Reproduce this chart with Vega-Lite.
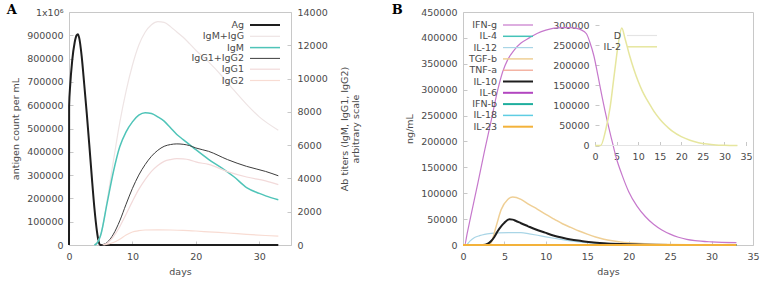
{
"$schema": "https://vega.github.io/schema/vega-lite/v6.json",
"padding": {"left": 6, "top": 3, "right": 2, "bottom": 2},
"background": "white",
"spacing": 30,
"config": {
  "font": "DejaVu Sans",
  "view": {"stroke": "#c8c8c8", "strokeWidth": 1},
  "axis": {"grid": false, "domain": false, "tickSize": -4, "tickColor": "#c8c8c8", "labelFont": "DejaVu Sans", "labelFontSize": 9.5, "labelColor": "#4a4a4a", "labelPadding": 10, "labelFlush": false, "labelOverlap": false, "titleFont": "DejaVu Sans", "titleFontSize": 9.5, "titleFontWeight": "normal", "titleColor": "#4a4a4a"},
  "legend": {"labelFont": "DejaVu Sans", "labelFontSize": 9.5, "labelColor": "#4a4a4a", "rowPadding": 0.3, "padding": 0, "title": null, "labelAlign": "right", "labelOffset": -27, "symbolType": "M-3,0H3", "symbolSize": 100},
  "line": {"interpolate": "monotone"}
},
"datasets": {
  "A": [
    {"s":"Ag","d":0,"v":0},{"s":"Ag","d":0.02,"v":596000},{"s":"Ag","d":0.2,"v":690000},{"s":"Ag","d":0.5,"v":790000},{"s":"Ag","d":0.9,"v":870000},{"s":"Ag","d":1.2,"v":900000},{"s":"Ag","d":1.4,"v":905000},{"s":"Ag","d":1.6,"v":890000},{"s":"Ag","d":2.0,"v":810000},{"s":"Ag","d":2.4,"v":690000},{"s":"Ag","d":2.8,"v":565000},{"s":"Ag","d":3.2,"v":430000},{"s":"Ag","d":3.6,"v":290000},{"s":"Ag","d":4.0,"v":160000},{"s":"Ag","d":4.4,"v":60000},{"s":"Ag","d":4.7,"v":12000},{"s":"Ag","d":4.9,"v":0},{"s":"Ag","d":33,"v":0},
    {"s":"IgM+IgG","d":4,"v":0},{"s":"IgM+IgG","d":5,"v":600},{"s":"IgM+IgG","d":6,"v":2650},{"s":"IgM+IgG","d":7,"v":5050},{"s":"IgM+IgG","d":8,"v":7350},{"s":"IgM+IgG","d":9,"v":9250},{"s":"IgM+IgG","d":10,"v":10800},{"s":"IgM+IgG","d":11,"v":12000},{"s":"IgM+IgG","d":12,"v":12780},{"s":"IgM+IgG","d":13,"v":13230},{"s":"IgM+IgG","d":14,"v":13420},{"s":"IgM+IgG","d":15,"v":13380},{"s":"IgM+IgG","d":16,"v":13120},{"s":"IgM+IgG","d":17,"v":12800},{"s":"IgM+IgG","d":18,"v":12480},{"s":"IgM+IgG","d":19,"v":12100},{"s":"IgM+IgG","d":20,"v":11700},{"s":"IgM+IgG","d":22,"v":11000},{"s":"IgM+IgG","d":24,"v":10200},{"s":"IgM+IgG","d":26,"v":9300},{"s":"IgM+IgG","d":28,"v":8450},{"s":"IgM+IgG","d":30,"v":7700},{"s":"IgM+IgG","d":33,"v":6900},
    {"s":"IgM","d":4,"v":0},{"s":"IgM","d":4.5,"v":150},{"s":"IgM","d":5,"v":600},{"s":"IgM","d":6,"v":2500},{"s":"IgM","d":7,"v":4400},{"s":"IgM","d":8,"v":5900},{"s":"IgM","d":9,"v":6800},{"s":"IgM","d":10,"v":7400},{"s":"IgM","d":11,"v":7800},{"s":"IgM","d":12,"v":7950},{"s":"IgM","d":13,"v":7900},{"s":"IgM","d":14,"v":7700},{"s":"IgM","d":15,"v":7440},{"s":"IgM","d":16,"v":7040},{"s":"IgM","d":17,"v":6640},{"s":"IgM","d":18,"v":6335},{"s":"IgM","d":19,"v":6035},{"s":"IgM","d":20,"v":5730},{"s":"IgM","d":22,"v":5150},{"s":"IgM","d":24,"v":4650},{"s":"IgM","d":26,"v":4100},{"s":"IgM","d":28,"v":3450},{"s":"IgM","d":30,"v":3100},{"s":"IgM","d":31,"v":2950},{"s":"IgM","d":33,"v":2715},
    {"s":"IgG1+IgG2","d":5,"v":0},{"s":"IgG1+IgG2","d":6,"v":150},{"s":"IgG1+IgG2","d":7,"v":650},{"s":"IgG1+IgG2","d":8,"v":1450},{"s":"IgG1+IgG2","d":9,"v":2450},{"s":"IgG1+IgG2","d":10,"v":3400},{"s":"IgG1+IgG2","d":11,"v":4200},{"s":"IgG1+IgG2","d":12,"v":4830},{"s":"IgG1+IgG2","d":13,"v":5330},{"s":"IgG1+IgG2","d":14,"v":5690},{"s":"IgG1+IgG2","d":15,"v":5930},{"s":"IgG1+IgG2","d":16,"v":6035},{"s":"IgG1+IgG2","d":17,"v":6075},{"s":"IgG1+IgG2","d":18,"v":6050},{"s":"IgG1+IgG2","d":19,"v":5975},{"s":"IgG1+IgG2","d":20,"v":5830},{"s":"IgG1+IgG2","d":22,"v":5630},{"s":"IgG1+IgG2","d":25,"v":5130},{"s":"IgG1+IgG2","d":28,"v":4725},{"s":"IgG1+IgG2","d":31,"v":4420},{"s":"IgG1+IgG2","d":33,"v":4160},
    {"s":"IgG1","d":5.3,"v":0},{"s":"IgG1","d":6,"v":100},{"s":"IgG1","d":7,"v":500},{"s":"IgG1","d":8,"v":1100},{"s":"IgG1","d":9,"v":1850},{"s":"IgG1","d":10,"v":2620},{"s":"IgG1","d":11,"v":3340},{"s":"IgG1","d":12,"v":3930},{"s":"IgG1","d":13,"v":4425},{"s":"IgG1","d":14,"v":4780},{"s":"IgG1","d":15,"v":5025},{"s":"IgG1","d":16,"v":5135},{"s":"IgG1","d":17,"v":5185},{"s":"IgG1","d":18,"v":5170},{"s":"IgG1","d":19,"v":5115},{"s":"IgG1","d":20,"v":4990},{"s":"IgG1","d":22,"v":4840},{"s":"IgG1","d":25,"v":4410},{"s":"IgG1","d":28,"v":4085},{"s":"IgG1","d":31,"v":3850},{"s":"IgG1","d":33,"v":3630},
    {"s":"IgG2","d":5.5,"v":0},{"s":"IgG2","d":7,"v":150},{"s":"IgG2","d":8,"v":350},{"s":"IgG2","d":9,"v":600},{"s":"IgG2","d":10,"v":780},{"s":"IgG2","d":11,"v":860},{"s":"IgG2","d":12,"v":900},{"s":"IgG2","d":14,"v":910},{"s":"IgG2","d":16,"v":900},{"s":"IgG2","d":18,"v":880},{"s":"IgG2","d":20,"v":840},{"s":"IgG2","d":22,"v":790},{"s":"IgG2","d":25,"v":720},{"s":"IgG2","d":28,"v":640},{"s":"IgG2","d":31,"v":570},{"s":"IgG2","d":33,"v":530}
  ],
  "B": [
    {"s":"IFN-g","d":0,"v":0},{"s":"IFN-g","d":0.2,"v":0},{"s":"IFN-g","d":0.5,"v":22000},{"s":"IFN-g","d":1,"v":60000},{"s":"IFN-g","d":1.8,"v":120000},{"s":"IFN-g","d":2.6,"v":182000},{"s":"IFN-g","d":3.4,"v":240000},{"s":"IFN-g","d":4.2,"v":300000},{"s":"IFN-g","d":4.8,"v":335000},{"s":"IFN-g","d":5.4,"v":358000},{"s":"IFN-g","d":6.2,"v":377000},{"s":"IFN-g","d":7,"v":390000},{"s":"IFN-g","d":8,"v":400000},{"s":"IFN-g","d":9,"v":409000},{"s":"IFN-g","d":10,"v":415000},{"s":"IFN-g","d":11,"v":419000},{"s":"IFN-g","d":12,"v":420000},{"s":"IFN-g","d":13,"v":420000},{"s":"IFN-g","d":13.5,"v":419000},{"s":"IFN-g","d":14.2,"v":416000},{"s":"IFN-g","d":14.9,"v":408000},{"s":"IFN-g","d":15.3,"v":392000},{"s":"IFN-g","d":15.8,"v":365000},{"s":"IFN-g","d":16.3,"v":326000},{"s":"IFN-g","d":16.8,"v":285000},{"s":"IFN-g","d":17.4,"v":240000},{"s":"IFN-g","d":18,"v":200000},{"s":"IFN-g","d":18.5,"v":168000},{"s":"IFN-g","d":19.2,"v":135000},{"s":"IFN-g","d":20,"v":103000},{"s":"IFN-g","d":21,"v":75000},{"s":"IFN-g","d":22,"v":55000},{"s":"IFN-g","d":23,"v":40000},{"s":"IFN-g","d":24,"v":29000},{"s":"IFN-g","d":25,"v":21000},{"s":"IFN-g","d":26,"v":15000},{"s":"IFN-g","d":27,"v":11000},{"s":"IFN-g","d":28,"v":8500},{"s":"IFN-g","d":30,"v":6000},{"s":"IFN-g","d":33,"v":4500},
    {"s":"IL-4","d":0,"v":0},{"s":"IL-4","d":33,"v":0},
    {"s":"IL-12","d":0,"v":0},{"s":"IL-12","d":0.4,"v":0},{"s":"IL-12","d":0.8,"v":7000},{"s":"IL-12","d":1.4,"v":14300},{"s":"IL-12","d":2,"v":18000},{"s":"IL-12","d":2.6,"v":20600},{"s":"IL-12","d":3.4,"v":22500},{"s":"IL-12","d":4.2,"v":23500},{"s":"IL-12","d":5.5,"v":24000},{"s":"IL-12","d":7,"v":23900},{"s":"IL-12","d":8,"v":21500},{"s":"IL-12","d":9,"v":18800},{"s":"IL-12","d":10,"v":15800},{"s":"IL-12","d":11,"v":13000},{"s":"IL-12","d":12,"v":10300},{"s":"IL-12","d":13,"v":7900},{"s":"IL-12","d":14,"v":5900},{"s":"IL-12","d":15,"v":4300},{"s":"IL-12","d":16,"v":3200},{"s":"IL-12","d":18,"v":1700},{"s":"IL-12","d":20,"v":900},{"s":"IL-12","d":25,"v":200},{"s":"IL-12","d":33,"v":0},
    {"s":"TGF-b","d":0,"v":0},{"s":"TGF-b","d":3.0,"v":0},{"s":"TGF-b","d":3.4,"v":4600},{"s":"TGF-b","d":4.0,"v":36000},{"s":"TGF-b","d":4.6,"v":68000},{"s":"TGF-b","d":5.4,"v":88000},{"s":"TGF-b","d":6.0,"v":92500},{"s":"TGF-b","d":7,"v":88000},{"s":"TGF-b","d":8,"v":78000},{"s":"TGF-b","d":9,"v":69000},{"s":"TGF-b","d":10,"v":59000},{"s":"TGF-b","d":11,"v":50000},{"s":"TGF-b","d":12,"v":41000},{"s":"TGF-b","d":13,"v":34000},{"s":"TGF-b","d":14,"v":27000},{"s":"TGF-b","d":15,"v":21000},{"s":"TGF-b","d":16,"v":15500},{"s":"TGF-b","d":17,"v":11000},{"s":"TGF-b","d":18,"v":8000},{"s":"TGF-b","d":19,"v":6000},{"s":"TGF-b","d":20,"v":4500},{"s":"TGF-b","d":22,"v":2500},{"s":"TGF-b","d":25,"v":1000},{"s":"TGF-b","d":28,"v":400},{"s":"TGF-b","d":33,"v":100},
    {"s":"TNF-a","d":0,"v":0},{"s":"TNF-a","d":33,"v":0},
    {"s":"IL-10","d":0,"v":0},{"s":"IL-10","d":2.4,"v":0},{"s":"IL-10","d":3.0,"v":2500},{"s":"IL-10","d":3.4,"v":7700},{"s":"IL-10","d":3.8,"v":16000},{"s":"IL-10","d":4.2,"v":27000},{"s":"IL-10","d":4.6,"v":36000},{"s":"IL-10","d":5.0,"v":43000},{"s":"IL-10","d":5.6,"v":49500},{"s":"IL-10","d":6.0,"v":49000},{"s":"IL-10","d":6.4,"v":46300},{"s":"IL-10","d":7,"v":42000},{"s":"IL-10","d":7.8,"v":36600},{"s":"IL-10","d":8.8,"v":30000},{"s":"IL-10","d":9.9,"v":23900},{"s":"IL-10","d":10.9,"v":18500},{"s":"IL-10","d":11.9,"v":14300},{"s":"IL-10","d":13,"v":10500},{"s":"IL-10","d":14.3,"v":7700},{"s":"IL-10","d":15.5,"v":5200},{"s":"IL-10","d":17,"v":3300},{"s":"IL-10","d":19,"v":1800},{"s":"IL-10","d":21,"v":900},{"s":"IL-10","d":25,"v":200},{"s":"IL-10","d":33,"v":0},
    {"s":"IL-6","d":0,"v":0},{"s":"IL-6","d":33,"v":0},
    {"s":"IFN-b","d":0,"v":0},{"s":"IFN-b","d":33,"v":0},
    {"s":"IL-18","d":0,"v":0},{"s":"IL-18","d":33,"v":0},
    {"s":"IL-23","d":0,"v":0},{"s":"IL-23","d":33,"v":0}
  ],
  "inset": [
    {"s":"D","d":0,"v":0},{"s":"D","d":33,"v":0},
    {"s":"IL-2","d":0,"v":0},{"s":"IL-2","d":1.3,"v":0},{"s":"IL-2","d":2.5,"v":40000},{"s":"IL-2","d":3.5,"v":95000},{"s":"IL-2","d":4.5,"v":180000},{"s":"IL-2","d":5.5,"v":260000},{"s":"IL-2","d":6.2,"v":293000},{"s":"IL-2","d":7,"v":265000},{"s":"IL-2","d":8,"v":225000},{"s":"IL-2","d":9,"v":190000},{"s":"IL-2","d":10,"v":160000},{"s":"IL-2","d":11,"v":135000},{"s":"IL-2","d":12,"v":115000},{"s":"IL-2","d":13,"v":97000},{"s":"IL-2","d":14,"v":80000},{"s":"IL-2","d":15,"v":66000},{"s":"IL-2","d":16,"v":54000},{"s":"IL-2","d":17,"v":44000},{"s":"IL-2","d":18,"v":35000},{"s":"IL-2","d":20,"v":22000},{"s":"IL-2","d":22,"v":13000},{"s":"IL-2","d":24,"v":7000},{"s":"IL-2","d":26,"v":3500},{"s":"IL-2","d":28,"v":1500},{"s":"IL-2","d":30,"v":600},{"s":"IL-2","d":33,"v":0}
  ]
},
"hconcat": [
  {
    "width": 222, "height": 233,
    "title": {"text": "A", "anchor": "start", "frame": "bounds", "font": "DejaVu Serif", "fontSize": 13, "fontWeight": "bold", "color": "#000000", "offset": -10, "dx": -4},
    "data": {"name": "A"},
    "layer": [
      {
        "transform": [{"filter": "datum.s === 'Ag'"}],
        "mark": {"type": "line"},
        "encoding": {
          "x": {"field": "d", "type": "quantitative", "scale": {"domain": [0, 35], "nice": false}, "axis": {"values": [0,5,10,15,20,25,30,35], "title": "days", "titlePadding": 6}},
          "y": {"field": "v", "type": "quantitative", "scale": {"domain": [0, 1000000], "nice": false}, "axis": {"values": [0,100000,200000,300000,400000,500000,600000,700000,800000,900000,1000000], "title": "antigen count per mL", "titlePadding": 6, "labelExpr": "datum.value == 1000000 ? '1x10⁶' : format(datum.value, 'd')"}},
          "color": {"field": "s", "type": "nominal", "scale": {"domain": ["Ag","IgM+IgG","IgM","IgG1+IgG2","IgG1","IgG2"], "range": ["#1e1e1e","#eee4e4","#4fc4b8","#3d3d3d","#f2dada","#f8dcd3"]}, "legend": {"orient": "none", "legendX": 190, "legendY": 7}},
          "strokeWidth": {"field": "s", "type": "nominal", "scale": {"type": "ordinal", "domain": ["Ag","IgM+IgG","IgM","IgG1+IgG2","IgG1","IgG2"], "range": [2, 1.2, 1.5, 1, 1.2, 1.2]}, "legend": {"orient": "none", "legendX": 190, "legendY": 7}}
        }
      },
      {
        "transform": [{"filter": "datum.s !== 'Ag'"}],
        "mark": {"type": "line"},
        "encoding": {
          "x": {"field": "d", "type": "quantitative", "scale": {"domain": [0, 35], "nice": false}},
          "y": {"field": "v", "type": "quantitative", "scale": {"domain": [0, 14000], "nice": false}, "axis": {"orient": "right", "values": [0,2000,4000,6000,8000,10000,12000,14000], "format": "d", "title": ["Ab titers (IgM, IgG1, IgG2)", "arbitrary scale"], "titleAngle": 270, "titleBaseline": "top", "titlePadding": 1, "titleLineHeight": 11}},
          "color": {"field": "s", "type": "nominal", "scale": {"domain": ["Ag","IgM+IgG","IgM","IgG1+IgG2","IgG1","IgG2"], "range": ["#1e1e1e","#eee4e4","#4fc4b8","#3d3d3d","#f2dada","#f8dcd3"]}, "legend": {"orient": "none", "legendX": 190, "legendY": 7}},
          "strokeWidth": {"field": "s", "type": "nominal", "scale": {"type": "ordinal", "domain": ["Ag","IgM+IgG","IgM","IgG1+IgG2","IgG1","IgG2"], "range": [2, 1.2, 1.5, 1, 1.2, 1.2]}, "legend": {"orient": "none", "legendX": 190, "legendY": 7}}
        }
      }
    ],
    "resolve": {"scale": {"y": "independent"}}
  },
  {
    "width": 290, "height": 233,
    "title": {"text": "B", "anchor": "start", "frame": "bounds", "font": "DejaVu Serif", "fontSize": 13, "fontWeight": "bold", "color": "#000000", "offset": -10, "dx": -13},
    "layer": [
      {
        "data": {"name": "B"},
        "mark": {"type": "line"},
        "encoding": {
          "x": {"field": "d", "type": "quantitative", "scale": {"domain": [0, 35], "nice": false}, "axis": {"values": [0,5,10,15,20,25,30,35], "title": "days", "titlePadding": 6}},
          "y": {"field": "v", "type": "quantitative", "scale": {"domain": [0, 450000], "nice": false}, "axis": {"values": [0,50000,100000,150000,200000,250000,300000,350000,400000,450000], "format": "d", "title": "ng/mL", "titlePadding": 6}},
          "color": {"field": "s", "type": "nominal", "scale": {"domain": ["IFN-g","IL-4","IL-12","TGF-b","TNF-a","IL-10","IL-6","IFN-b","IL-18","IL-23"], "range": ["#c678cc","#45c3b8","#a9d5e6","#efcf95","#f0a08c","#1e1e1e","#b246c0","#1fae9e","#5fcde3","#f3b23a"]}, "legend": {"orient": "none", "legendX": 49, "legendY": 7}},
          "strokeWidth": {"field": "s", "type": "nominal", "scale": {"type": "ordinal", "domain": ["IFN-g","IL-4","IL-12","TGF-b","TNF-a","IL-10","IL-6","IFN-b","IL-18","IL-23"], "range": [1.2, 1.5, 1.2, 1.5, 1.2, 2, 2, 2, 1.5, 2]}, "legend": {"orient": "none", "legendX": 49, "legendY": 7}}
        }
      },
      {
        "data": {"name": "inset"},
        "encoding": {
          "x": {"field": "d", "type": "quantitative", "scale": {"domain": [0, 35], "nice": false, "range": [132, 283]}, "axis": {"orient": "bottom", "offset": -99.5, "values": [0,5,10,15,20,25,30,35], "title": null}},
          "y": {"field": "v", "type": "quantitative", "scale": {"domain": [0, 300000], "nice": false, "range": [133.5, 13.2]}, "axis": {"orient": "left", "offset": -132, "values": [0,50000,100000,150000,200000,250000,300000], "format": "d", "title": null}}
        },
        "layer": [
          {
            "data": {"values": [{"a": 1}]},
            "mark": {"type": "rect", "filled": false, "stroke": "#c8c8c8", "strokeWidth": 1},
            "encoding": {"x": {"datum": 0}, "x2": {"datum": 35}, "y": {"datum": 0}, "y2": {"datum": 300000}}
          },
          {
            "mark": {"type": "line"},
            "encoding": {
              "color": {"field": "s", "type": "nominal", "scale": {"domain": ["D","IL-2"], "range": ["#e4e4e4","#e6e69e"]}, "legend": {"orient": "none", "legendX": 173, "legendY": 17.5}},
              "strokeWidth": {"field": "s", "type": "nominal", "scale": {"type": "ordinal", "domain": ["D","IL-2"], "range": [1.2, 1.5]}, "legend": {"orient": "none", "legendX": 173, "legendY": 17.5}}
            }
          }
        ]
      }
    ],
    "resolve": {"scale": {"x": "independent", "y": "independent", "color": "independent", "strokeWidth": "independent"}}
  }
]
}
